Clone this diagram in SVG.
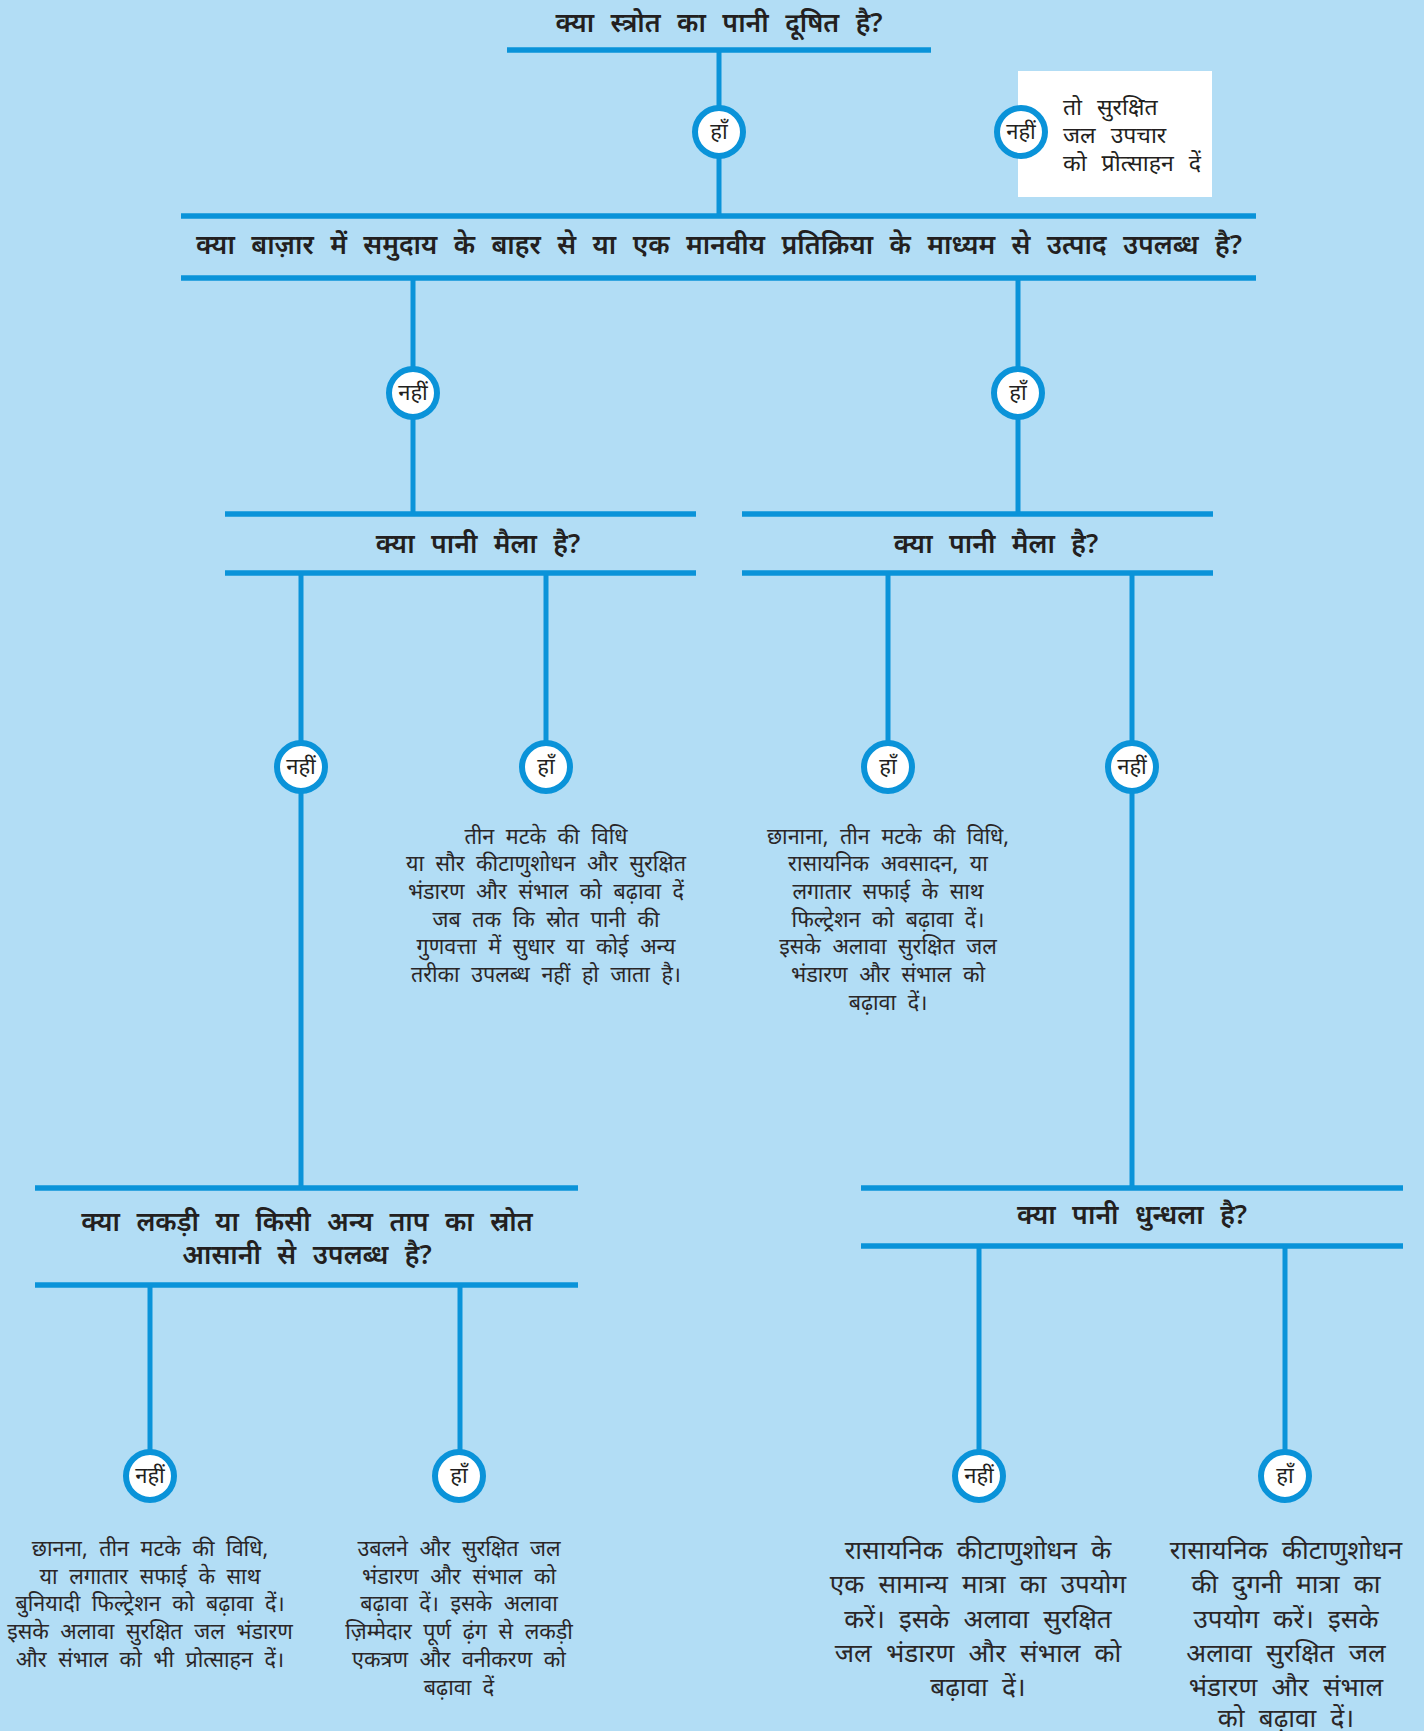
<svg xmlns="http://www.w3.org/2000/svg" width="1424" height="1731" viewBox="0 0 1424 1731">
<style>
.bar{stroke:#0a93d9;stroke-width:5.5;fill:none}
.ln{stroke:#0a93d9;stroke-width:5;fill:none}
.ring{fill:#fff;stroke:#0a93d9;stroke-width:6}
.q{font-family:"Noto Sans","Noto Sans Devanagari",sans-serif;font-size:26.5px;font-weight:600;fill:#231f20;text-anchor:middle;word-spacing:9.5px}
.lab{font-family:"Noto Sans","Noto Sans Devanagari",sans-serif;font-size:22px;fill:#231f20;text-anchor:middle}
.t{font-family:"Noto Sans","Noto Sans Devanagari",sans-serif;font-size:21.5px;fill:#2a2627;text-anchor:middle;word-spacing:6px}
.tb{font-family:"Noto Sans","Noto Sans Devanagari",sans-serif;font-size:26px;fill:#2a2627;text-anchor:middle;word-spacing:7.5px}
.tl{font-family:"Noto Sans","Noto Sans Devanagari",sans-serif;font-size:23px;fill:#231f20;word-spacing:9px}
</style>
<rect x="0" y="0" width="1424" height="1731" fill="#b2ddf5"/>

<g id="connectors">
<line class="ln" x1="719" y1="50" x2="719" y2="216"/>
<line class="ln" x1="413" y1="278" x2="413" y2="514"/>
<line class="ln" x1="1018" y1="278" x2="1018" y2="514"/>
<line class="ln" x1="301" y1="573" x2="301" y2="1188"/>
<line class="ln" x1="546" y1="573" x2="546" y2="767"/>
<line class="ln" x1="888" y1="573" x2="888" y2="767"/>
<line class="ln" x1="1132" y1="573" x2="1132" y2="1188"/>
<line class="ln" x1="150" y1="1285" x2="150" y2="1476"/>
<line class="ln" x1="460" y1="1285" x2="460" y2="1476"/>
<line class="ln" x1="979" y1="1246" x2="979" y2="1476"/>
<line class="ln" x1="1285" y1="1246" x2="1285" y2="1476"/>
</g>

<g id="q1">
<text class="q" x="719" y="32">क्या स्त्रोत का पानी दूषित है?</text>
<line class="bar" x1="507" y1="50" x2="931" y2="50"/>
</g>

<g id="q2">
<line class="bar" x1="181" y1="216" x2="1256" y2="216"/>
<text class="q" x="719" y="254">क्या बाज़ार में समुदाय के बाहर से या एक मानवीय प्रतिक्रिया के माध्यम से उत्पाद उपलब्ध है?</text>
<line class="bar" x1="181" y1="278" x2="1256" y2="278"/>
</g>

<g id="q3-left">
<line class="bar" x1="225" y1="514" x2="696" y2="514"/>
<text class="q" x="478" y="553">क्या पानी मैला है?</text>
<line class="bar" x1="225" y1="573" x2="696" y2="573"/>
</g>

<g id="q3-right">
<line class="bar" x1="742" y1="514" x2="1213" y2="514"/>
<text class="q" x="996" y="553">क्या पानी मैला है?</text>
<line class="bar" x1="742" y1="573" x2="1213" y2="573"/>
</g>

<g id="q4-left">
<line class="bar" x1="35" y1="1188" x2="578" y2="1188"/>
<text class="q" x="307" y="1231">क्या लकड़ी या किसी अन्य ताप का स्रोत</text>
<text class="q" x="307" y="1264">आसानी से उपलब्ध है?</text>
<line class="bar" x1="35" y1="1285" x2="578" y2="1285"/>
</g>

<g id="q4-right">
<line class="bar" x1="861" y1="1188" x2="1403" y2="1188"/>
<text class="q" x="1132" y="1224">क्या पानी धुन्धला है?</text>
<line class="bar" x1="861" y1="1246" x2="1403" y2="1246"/>
</g>

<g id="a-yes-1"><circle class="ring" cx="719" cy="132" r="24"/><text class="lab" x="719" y="139">हाँ</text></g>

<g id="a-no-1">
<rect x="1018" y="71" width="194" height="126" fill="#fff"/>
<circle class="ring" cx="1021" cy="132" r="24"/><text class="lab" x="1021" y="139">नहीं</text>
<text class="tl" x="1063" y="115">तो सुरक्षित</text>
<text class="tl" x="1063" y="143">जल उपचार</text>
<text class="tl" x="1063" y="171">को प्रोत्साहन दें</text>
</g>

<g id="a-no-2"><circle class="ring" cx="413" cy="393" r="24"/><text class="lab" x="413" y="400">नहीं</text></g>
<g id="a-yes-2"><circle class="ring" cx="1018" cy="393" r="24"/><text class="lab" x="1018" y="400">हाँ</text></g>

<g id="a-no-3"><circle class="ring" cx="301" cy="767" r="24"/><text class="lab" x="301" y="774">नहीं</text></g>

<g id="a-yes-3">
<circle class="ring" cx="546" cy="767" r="24"/><text class="lab" x="546" y="774">हाँ</text>
<text class="t" x="546" y="844">तीन मटके की विधि</text>
<text class="t" x="546" y="871">या सौर कीटाणुशोधन और सुरक्षित</text>
<text class="t" x="546" y="899">भंडारण और संभाल को बढ़ावा दें</text>
<text class="t" x="546" y="927">जब तक कि स्रोत पानी की</text>
<text class="t" x="546" y="954">गुणवत्ता में सुधार या कोई अन्य</text>
<text class="t" x="546" y="982">तरीका उपलब्ध नहीं हो जाता है।</text>
</g>

<g id="a-yes-4">
<circle class="ring" cx="888" cy="767" r="24"/><text class="lab" x="888" y="774">हाँ</text>
<text class="t" x="888" y="844">छानाना, तीन मटके की विधि,</text>
<text class="t" x="888" y="871">रासायनिक अवसादन, या</text>
<text class="t" x="888" y="899">लगातार सफाई के साथ</text>
<text class="t" x="888" y="927">फिल्ट्रेशन को बढ़ावा दें।</text>
<text class="t" x="888" y="954">इसके अलावा सुरक्षित जल</text>
<text class="t" x="888" y="982">भंडारण और संभाल को</text>
<text class="t" x="888" y="1010">बढ़ावा दें।</text>
</g>

<g id="a-no-4"><circle class="ring" cx="1132" cy="767" r="24"/><text class="lab" x="1132" y="774">नहीं</text></g>

<g id="a-no-5">
<circle class="ring" cx="150" cy="1476" r="24"/><text class="lab" x="150" y="1483">नहीं</text>
<text class="t" x="150" y="1556">छानना, तीन मटके की विधि,</text>
<text class="t" x="150" y="1584">या लगातार सफाई के साथ</text>
<text class="t" x="150" y="1611">बुनियादी फिल्ट्रेशन को बढ़ावा दें।</text>
<text class="t" x="150" y="1639">इसके अलावा सुरक्षित जल भंडारण</text>
<text class="t" x="150" y="1667">और संभाल को भी प्रोत्साहन दें।</text>
</g>

<g id="a-yes-5">
<circle class="ring" cx="459" cy="1476" r="24"/><text class="lab" x="459" y="1483">हाँ</text>
<text class="t" x="459" y="1556">उबलने और सुरक्षित जल</text>
<text class="t" x="459" y="1584">भंडारण और संभाल को</text>
<text class="t" x="459" y="1611">बढ़ावा दें। इसके अलावा</text>
<text class="t" x="459" y="1639">ज़िम्मेदार पूर्ण ढ़ंग से लकड़ी</text>
<text class="t" x="459" y="1667">एकत्रण और वनीकरण को</text>
<text class="t" x="459" y="1695">बढ़ावा दें</text>
</g>

<g id="a-no-6">
<circle class="ring" cx="979" cy="1476" r="24"/><text class="lab" x="979" y="1483">नहीं</text>
<text class="tb" x="978" y="1559">रासायनिक कीटाणुशोधन के</text>
<text class="tb" x="978" y="1593">एक सामान्य मात्रा का उपयोग</text>
<text class="tb" x="978" y="1628">करें। इसके अलावा सुरक्षित</text>
<text class="tb" x="978" y="1662">जल भंडारण और संभाल को</text>
<text class="tb" x="978" y="1696">बढ़ावा दें।</text>
</g>

<g id="a-yes-6">
<circle class="ring" cx="1285" cy="1476" r="24"/><text class="lab" x="1285" y="1483">हाँ</text>
<text class="tb" x="1286" y="1559">रासायनिक कीटाणुशोधन</text>
<text class="tb" x="1286" y="1593">की दुगनी मात्रा का</text>
<text class="tb" x="1286" y="1628">उपयोग करें। इसके</text>
<text class="tb" x="1286" y="1662">अलावा सुरक्षित जल</text>
<text class="tb" x="1286" y="1696">भंडारण और संभाल</text>
<text class="tb" x="1286" y="1727">को बढ़ावा दें।</text>
</g>
</svg>
